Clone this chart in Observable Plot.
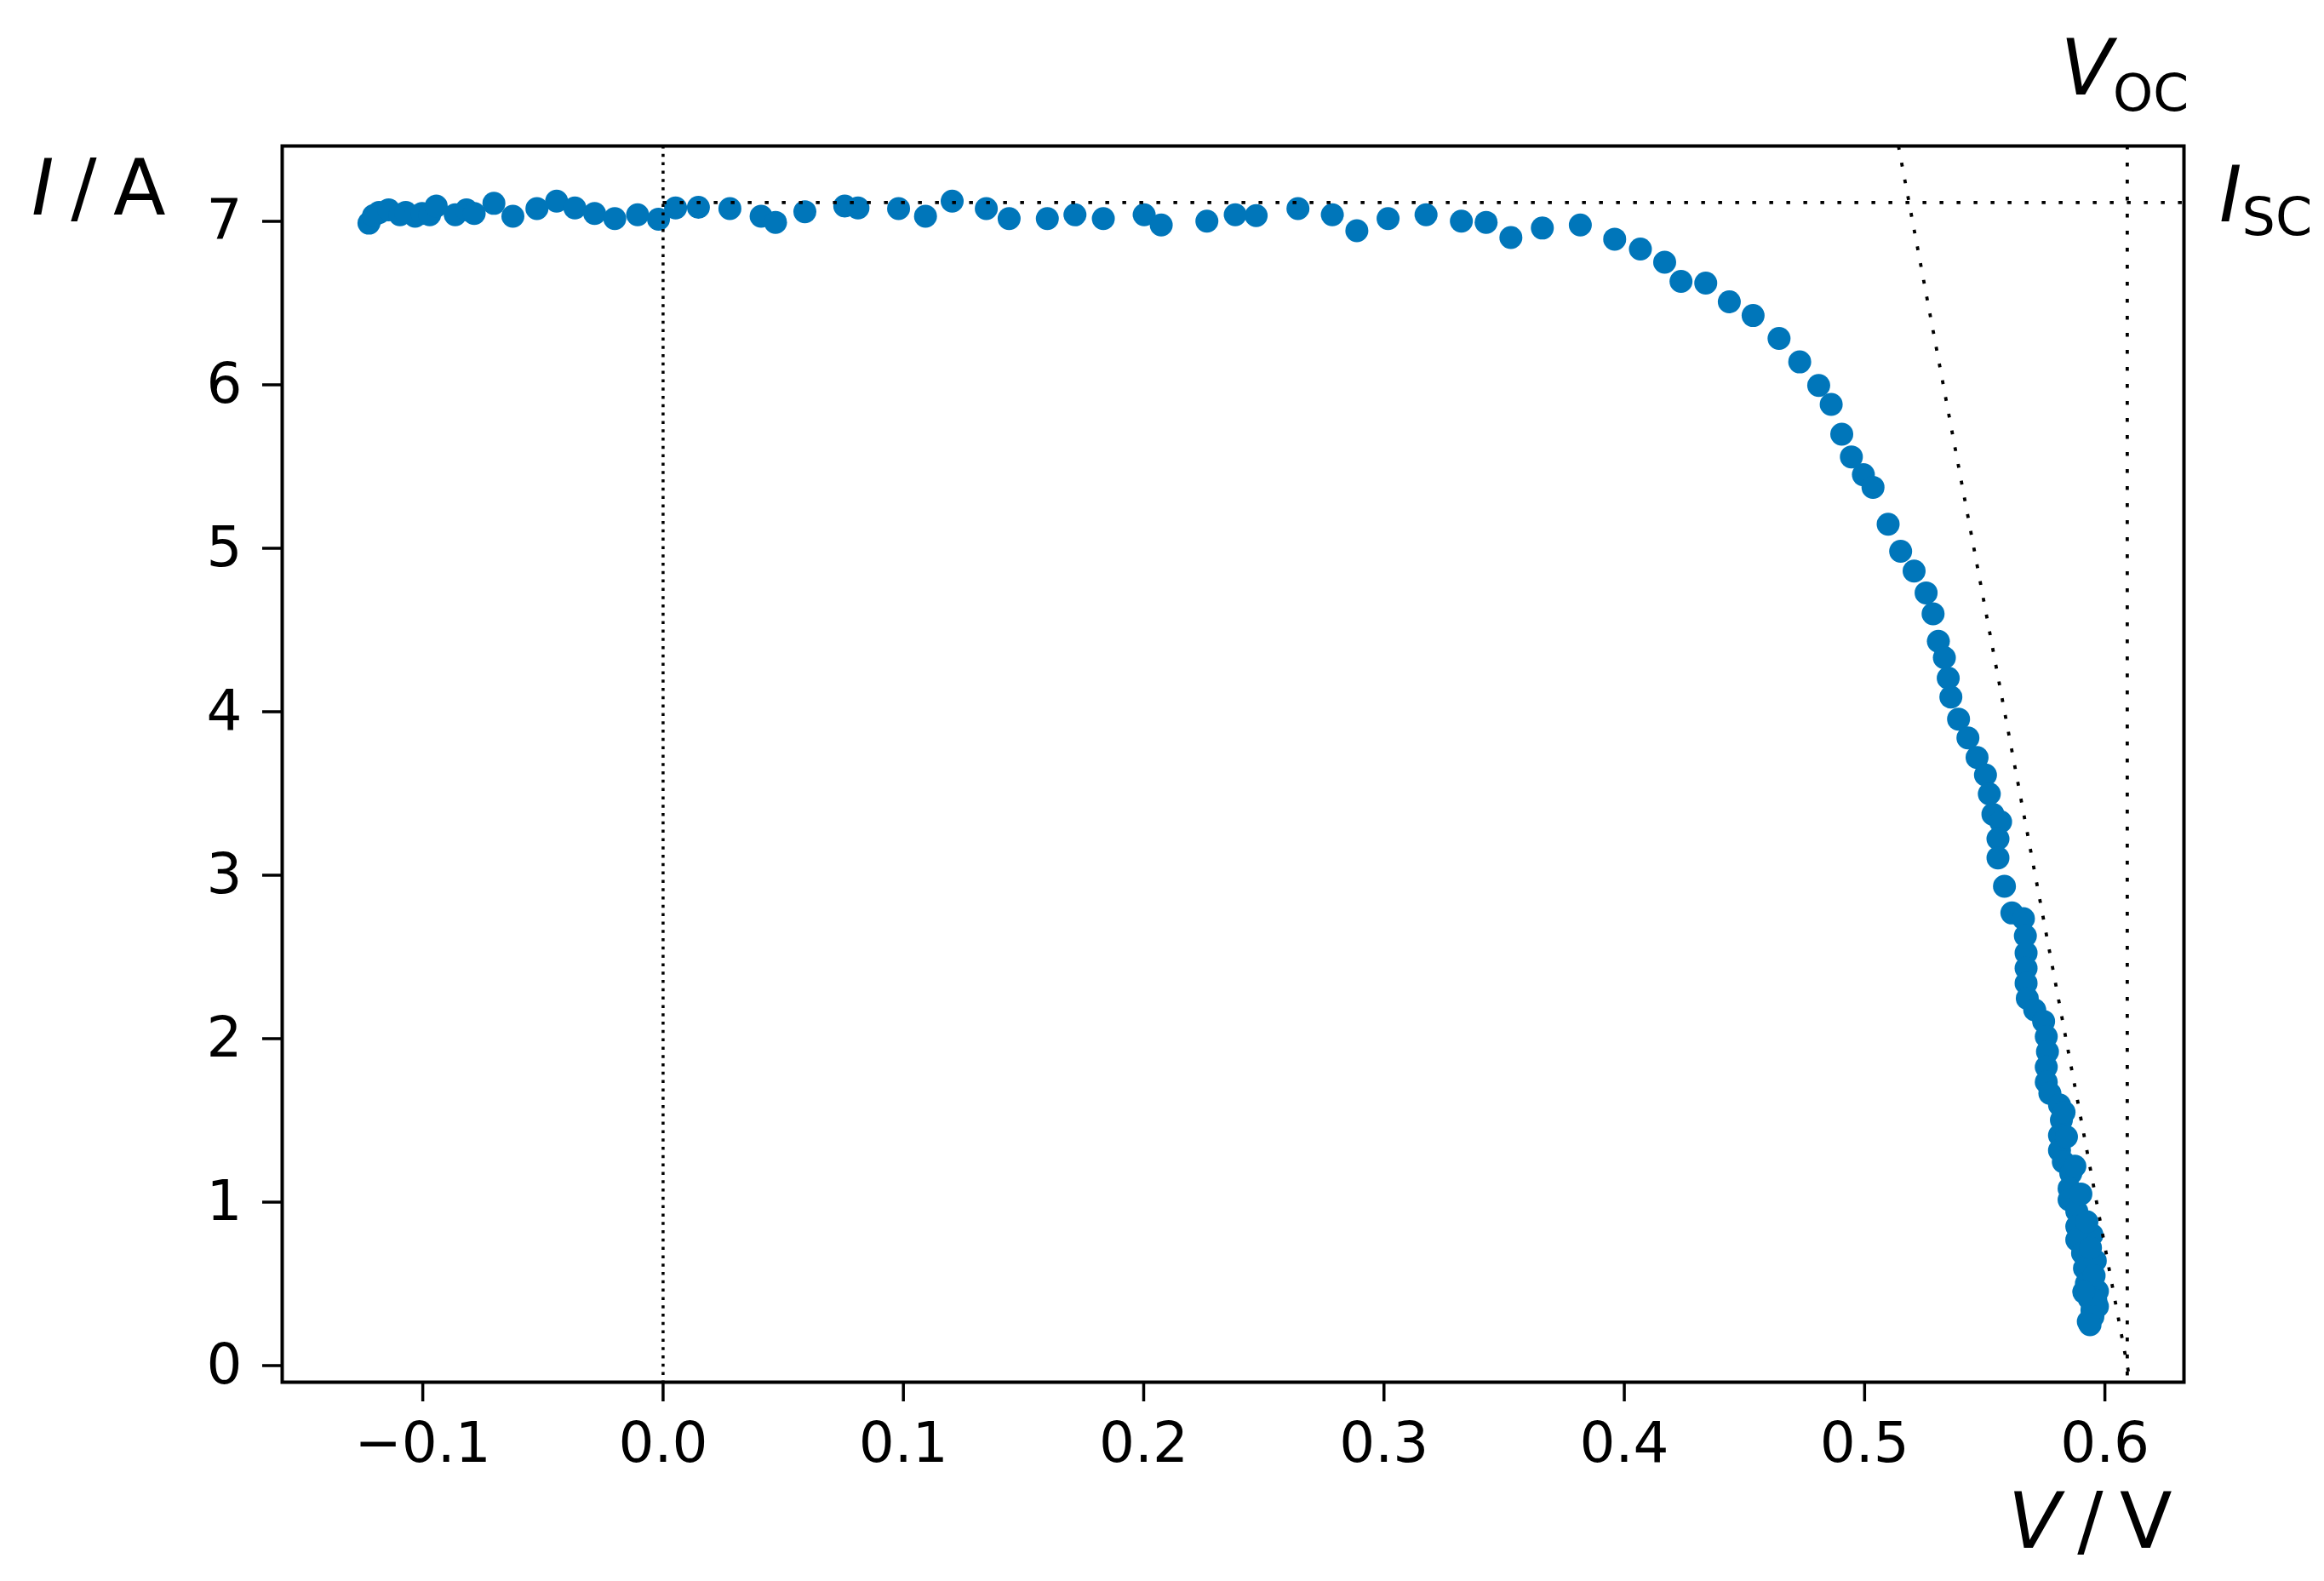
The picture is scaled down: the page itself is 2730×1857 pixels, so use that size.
<!DOCTYPE html>
<html><head><meta charset="utf-8">
<script src="https://cdn.jsdelivr.net/npm/d3@7"></script>
<script src="https://cdn.jsdelivr.net/npm/@observablehq/plot@0.6"></script>
<style>body{margin:0;background:#fff;} svg{display:block}</style>
</head><body><div id="chart"></div>
<script>
// Measured I–V points (V in volts, I in amperes)
const voltage = [
  -0.1224, -0.1205, -0.1182, -0.1142, -0.1095, -0.1071, -0.1032, -0.1003, -0.0971, -0.0944,
  -0.0865, -0.0818, -0.0786, -0.0704, -0.0625, -0.0525, -0.0443, -0.0367, -0.0285, -0.0201,
  -0.0106, -0.0019, 0.0052, 0.0147, 0.0278, 0.0408, 0.0468, 0.0590, 0.0756, 0.0811,
  0.0980, 0.1092, 0.1203, 0.1345, 0.1440, 0.1599, 0.1714, 0.1832, 0.2002, 0.2073,
  0.2263, 0.2381, 0.2468, 0.2642, 0.2785, 0.2887, 0.3017, 0.3175, 0.3322, 0.3425,
  0.3528, 0.3659, 0.3817,
  0.3960, 0.4067, 0.4168, 0.4236, 0.4339, 0.4437, 0.4536, 0.4644, 0.4730, 0.4809,
  0.4861, 0.4905, 0.4945, 0.4995, 0.5035, 0.5098, 0.5150, 0.5206, 0.5256, 0.5285,
  0.5307, 0.5332, 0.5348, 0.5359, 0.5391, 0.5430, 0.5468,
  0.5503, 0.5519, 0.5534, 0.5566, 0.5555, 0.5555, 0.5582, 0.5613, 0.5661, 0.5669,
  0.5672, 0.5672, 0.5672, 0.5677, 0.5708, 0.5745, 0.5756, 0.5761, 0.5756, 0.5756,
  0.5771, 0.5811, 0.5819, 0.5811, 0.5811, 0.5827, 0.5858, 0.5851, 0.5851, 0.5883,
  0.5883, 0.5883, 0.5907, 0.5915, 0.5923, 0.5935, 0.5946, 0.5931, 0.5960, 0.5969,
  0.5969, 0.5955, 0.5946, 0.5940, 0.5962, 0.5950, 0.5925, 0.5900, 0.5875, 0.5840,
  0.5830, 0.5912, 0.5938
];
const current = [
  6.989, 7.035, 7.054, 7.070, 7.040, 7.054, 7.031, 7.048, 7.040, 7.094,
  7.040, 7.070, 7.048, 7.110, 7.031, 7.078, 7.124, 7.082, 7.048, 7.017,
  7.040, 7.013, 7.082, 7.086, 7.078, 7.031, 6.994, 7.059, 7.094, 7.082,
  7.078, 7.031, 7.124, 7.078, 7.017, 7.017, 7.040, 7.017, 7.040, 6.978,
  7.001, 7.040, 7.035, 7.078, 7.040, 6.943, 7.017, 7.040, 7.001, 6.994,
  6.901, 6.959, 6.978,
  6.891, 6.831, 6.750, 6.633, 6.622, 6.508, 6.424, 6.284, 6.140, 5.996,
  5.880, 5.698, 5.559, 5.450, 5.373, 5.147, 4.982, 4.861, 4.727, 4.599,
  4.431, 4.331, 4.206, 4.090, 3.955, 3.840, 3.720,
  3.613, 3.497, 3.373, 3.327, 3.223, 3.106, 2.932, 2.769, 2.734, 2.629,
  2.524, 2.431, 2.339, 2.246, 2.176, 2.106, 2.013, 1.920, 1.827, 1.734,
  1.665, 1.595, 1.502, 1.409, 1.316, 1.246, 1.176, 1.083, 1.014, 0.944,
  0.851, 0.769, 0.688, 0.595, 0.502, 0.409, 0.339, 0.269, 0.641, 0.456,
  0.362, 0.550, 0.800, 0.720, 0.400, 0.300, 0.880, 1.050, 1.220, 1.400,
  1.550, 0.450, 0.250
];
const vTicks = [-0.1, 0.0, 0.1, 0.2, 0.3, 0.4, 0.5, 0.6];
const iTicks = [0, 1, 2, 3, 4, 5, 6, 7];
const isc = 7.115;            // short-circuit current
const voc = 0.6093;           // open-circuit voltage
const vTangentAtIsc = 0.5185; // where the tangent crosses I = Isc
const xDomain = [-0.1585, 0.6329];
const yDomain = [-0.1016, 7.4609];

const points = voltage.map((v, i) => ({V: v, I: current[i]}));
const slope = isc / (voc - vTangentAtIsc);
const tangent = [yDomain[1], yDomain[0]].map(I => ({V: voc - I / slope, I}));

const dotted = {stroke: "#000", strokeWidth: 3.8, strokeDasharray: "4.5 15.5", strokeLinecap: "butt"};

const chart = Plot.plot({
  width: 2730, height: 1857,
  marginLeft: 331, marginRight: 165, marginTop: 171, marginBottom: 234,
  style: {fontFamily: "DejaVu Sans", fontSize: "66px", background: "#fff", color: "#000"},
  x: {domain: xDomain},
  y: {domain: yDomain},
  marks: [
    Plot.dot(points, {x: "V", y: "I", r: 13.5, fill: "#0076ba", stroke: "none"}),
    Plot.ruleX([0], {stroke: "#000", strokeWidth: 3.5, strokeDasharray: "3.5 6.3"}),
    Plot.ruleY([isc], {x1: () => 0, x2: () => xDomain[1], ...dotted}),
    Plot.ruleX([voc], dotted),
    Plot.line(tangent, {x: "V", y: "I", ...dotted, strokeLinejoin: "miter", clip: true}),
    Plot.axisX({ticks: vTicks, tickFormat: d3.format(".1f"), tickSize: 23, tickPadding: 24,
                strokeWidth: 3.5, fontSize: 66, label: null}),
    Plot.axisY({ticks: iTicks, tickFormat: d3.format("d"), tickSize: 23, tickPadding: 24,
                strokeWidth: 3.5, fontSize: 66, label: null}),
    Plot.frame({stroke: "#000", strokeWidth: 4})
  ]
});
document.getElementById("chart").appendChild(chart);

const xs = chart.scale("x"), ys = chart.scale("y");
const svg = d3.select(chart);
const frameRight = 2730 - 165;

function label(x, y, parts, anchor = "start") {
  const t = svg.append("text").attr("x", x).attr("y", y)
    .attr("text-anchor", anchor).attr("font-family", "DejaVu Sans").attr("fill", "#000")
    .attr("word-spacing", "-9px");
  for (const p of parts) {
    const s = t.append("tspan").text(p.text).attr("font-size", p.size || 90);
    if (p.italic) s.attr("font-style", "italic");
    if (p.dy) s.attr("dy", p.dy);
  }
  return t;
}
label(37, 252, [{text: "I", italic: true}, {text: " / A"}]);
label(2359, 1818, [{text: "V", italic: true}, {text: " / V"}]);
label(xs.apply(voc) - 78, 111, [{text: "V", italic: true}, {text: "OC", size: 60, dy: 19}]);
label(frameRight + 42, ys.apply(isc) + 22.5, [{text: "I", italic: true}, {text: "SC", size: 62, dy: 16}]);
</script>
</body></html>
